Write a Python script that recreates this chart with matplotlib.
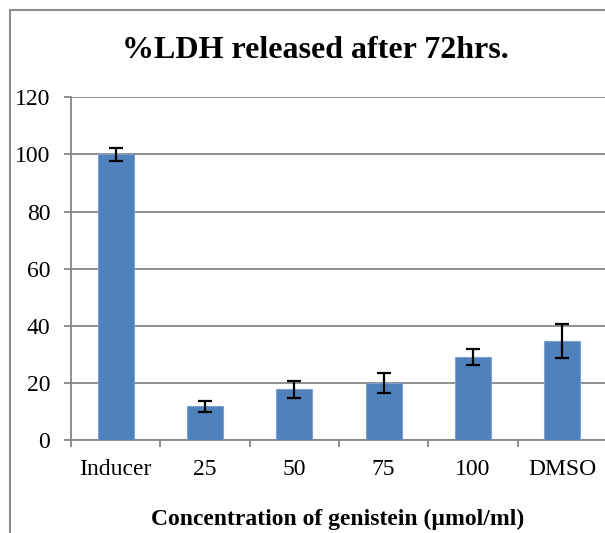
import numpy as np
import matplotlib
matplotlib.use('Agg')
import matplotlib.pyplot as plt
from matplotlib.patches import Rectangle

# values
categories = ['Inducer', '25', '50', '75', '100', 'DMSO']
ldh_release = [100.0, 11.8, 17.8, 20.1, 29.0, 34.6]
ldh_err = [2.2, 2.0, 3.0, 3.5, 2.9, 5.9]
y_ticks = [0, 20, 40, 60, 80, 100, 120]

plt.rcParams['font.family'] = ['Liberation Serif', 'DejaVu Serif']

W, H = 605, 533
fig = plt.figure(figsize=(W / 100, H / 100), dpi=100)

# outer chart frame (cut off at right and bottom like the source)
fig.patches.append(Rectangle((10 / W, -0.1), 1.2, 1.1 - 10 / H, transform=fig.transFigure,
                             fill=False, edgecolor='#8c8c8c', linewidth=1.5, zorder=0))

ax = fig.add_axes([71 / W, 1 - 440 / H, 536 / W, (440 - 97.3) / H])
x = np.arange(len(categories))
ax.bar(x, ldh_release, width=0.4, color='#4F81BD', edgecolor='#7BA0CD', linewidth=0.8, zorder=3)
ax.errorbar(x, ldh_release, yerr=ldh_err, fmt='none', ecolor='black',
            elinewidth=1.6, capsize=4.8, capthick=1.6, zorder=4)

ax.set_xlim(-0.5, len(categories) - 0.5)
ax.set_ylim(0, 120)
ax.set_yticks(y_ticks)
ax.yaxis.grid(True, color='#868686', linewidth=1.3, zorder=0)
ax.set_axisbelow(True)

for s in ['top', 'right']:
    ax.spines[s].set_visible(False)
for s in ['left', 'bottom']:
    ax.spines[s].set_color('#868686')
    ax.spines[s].set_linewidth(1.3)

ax.set_xticks(x)
ax.set_xticklabels(categories, fontsize=17)
ax.tick_params(axis='x', length=0, pad=14)
ax.set_xticks(np.arange(-0.5, len(categories)), minor=True)
ax.tick_params(axis='x', which='minor', length=5, width=1.3, color='#868686')
ax.tick_params(axis='y', labelsize=17, length=5, width=1.3, color='#868686', pad=10)

fig.text(315 / W, 1 - 51 / H, '%LDH released after 72hrs.', ha='center', va='center',
         fontsize=23, fontweight='bold')
fig.text(0.558, 1 - 519 / H, 'Concentration of genistein (µmol/ml)', ha='center', va='center',
         fontsize=17, fontweight='bold')

fig.savefig('out.png', dpi=100)
